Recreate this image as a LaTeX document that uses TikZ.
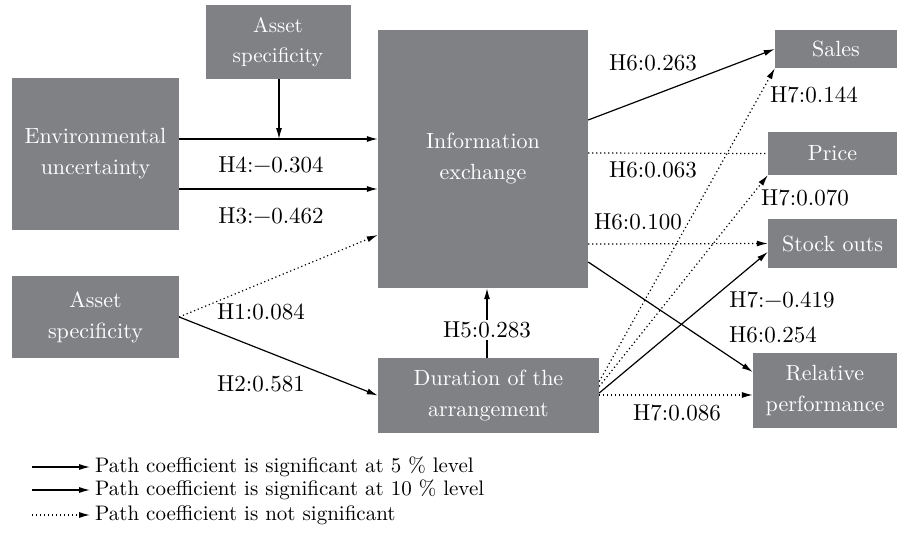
\documentclass[tikz,border=0pt]{standalone}
\usepackage{fontspec}
\setmainfont{lmroman10-regular.otf}
\usetikzlibrary{arrows.meta,calc}
\definecolor{boxgray}{RGB}{128,129,133}
\begin{document}
\begin{tikzpicture}[x=1pt,y=-1pt,
  box/.style={fill=boxgray,text=white,inner sep=0pt,align=center,font=\fontsize{22}{31}\selectfont},
  lab/.style={inner sep=1pt,font=\fontsize{23}{26}\selectfont},
  sig/.style={line width=1.2pt,-{Latex[length=11pt,width=6pt]}},
  nsig/.style={line width=1.2pt,dash pattern=on 1.2pt off 2.8pt,-{Latex[length=11pt,width=6pt]}},
  nsigplain/.style={line width=1.2pt,dash pattern=on 1.2pt off 2.8pt}]
\useasboundingbox (0,0) rectangle (900,546);
% boxes
\node[box,minimum width=145pt,minimum height=74pt,font=\fontsize{21}{30}\selectfont] (as1) at (278,42) {Asset\\specificity};
\node[box,minimum width=167pt,minimum height=152pt] (env) at (95.5,154) {Environmental\\uncertainty};
\node[box,minimum width=167pt,minimum height=82pt] (as2) at (95.5,317) {Asset\\specificity};
\node[box,minimum width=210pt,minimum height=258pt] (info) at (483,159) {Information\\exchange};
\node[box,minimum width=221pt,minimum height=75pt] (dur) at (488.5,395.5) {Duration of the\\arrangement};
\node[box,minimum width=122pt,minimum height=38pt] (sales) at (836,49) {Sales};
\node[box,minimum width=129pt,minimum height=43pt] (price) at (832.5,153.5) {Price};
\node[box,minimum width=129pt,minimum height=49pt] (stock) at (832.5,243.5) {Stock outs};
\node[box,minimum width=144pt,minimum height=75pt] (rel) at (825,390.5) {Relative\\performance};
% connectors on the left
\coordinate (m4) at (279,139);
\draw[sig] ([yshift=15pt]env.east) -- ([yshift=20pt]info.west);
\draw[sig] (as1.south -| m4) -- (m4);
\draw[sig] ([yshift=-35pt]env.east) -- ([yshift=-30pt]info.west);
\draw[nsig] (as2.east) -- ([yshift=-76pt]info.west);
\draw[sig] (as2.east) -- (dur.west);
\coordinate (h5) at (487,330);
\draw[line width=1.2pt] (dur.north -| h5) -- ([yshift=-10pt]h5);
\draw[sig] ([yshift=10pt]h5) -- (info.south -| h5);
% from information exchange
\draw[sig] ([yshift=39pt]info.east) -- (sales.west);
\draw[nsigplain] ([yshift=6pt]info.east) -- (price.west);
\draw[nsig] ([yshift=-85pt]info.east) -- (stock.west);
\draw[sig] ([yshift=-103pt]info.east) -- ([yshift=18.5pt]rel.west);
% from duration
\draw[nsig] ([yshift=14pt]dur.east) -- (sales.south west);
\draw[nsig] ([yshift=9pt]dur.east) -- (price.south west);
\draw[sig] ([yshift=2.5pt]dur.east) -- ([yshift=-8.5pt]stock.west);
\draw[nsig] ([yshift=0.5pt]dur.east) -- ([yshift=-4.5pt]rel.west);
% labels
\node[lab] (l4) at (271,165) {H4:−0.304};
\node[lab] (l3) at (271,216) {H3:−0.462};
\node[lab] (l1) at (261,312) {H1:0.084};
\node[lab] (l2) at (261,384) {H2:0.581};
\node[lab] (l5) at (h5) {H5:0.283};
\node[lab] (l6a) at (653,63) {H6:0.263};
\node[lab] (l7a) at (814,95) {H7:0.144};
\node[lab] (l6b) at (653,170) {H6:0.063};
\node[lab] (l7b) at (805,198) {H7:0.070};
\node[lab] (l6c) at (638,222) {H6:0.100};
\node[lab] (l7c) at (782,300) {H7:−0.419};
\node[lab] (l6d) at (773,335) {H6:0.254};
\node[lab] (l7d) at (677,413) {H7:0.086};
% legend
\coordinate (a1) at (32,467); \coordinate (b1) at (90,467);
\coordinate (a2) at (32,490); \coordinate (b2) at (90,490);
\coordinate (a3) at (32,515); \coordinate (b3) at (90,515);
\draw[sig] (a1) -- (b1);
\draw[sig] (a2) -- (b2);
\draw[nsig] (a3) -- (b3);
\node[lab,anchor=west,font=\fontsize{21}{24}\selectfont] (t1) at (94,467) {Path coefficient is significant at 5 \% level};
\node[lab,anchor=west,font=\fontsize{21}{24}\selectfont] (t2) at (94,490) {Path coefficient is significant at 10 \% level};
\node[lab,anchor=west,font=\fontsize{21}{24}\selectfont] (t3) at (94,515) {Path coefficient is not significant};
\end{tikzpicture}
\end{document}
